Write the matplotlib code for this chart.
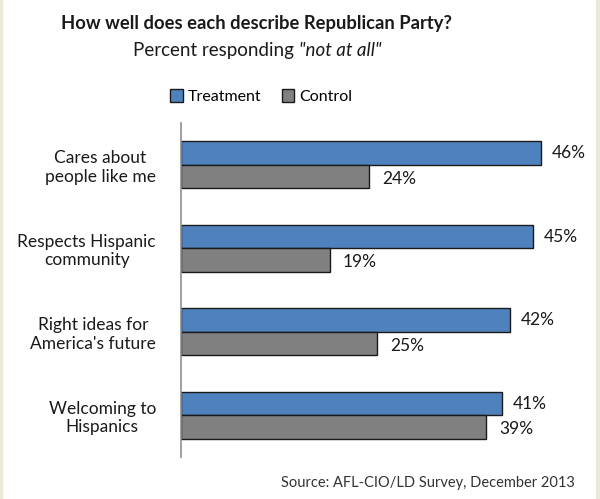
import matplotlib.pyplot as plt
from matplotlib.patches import Rectangle

categories = [
    "Cares about\npeople like me",
    "Respects Hispanic\ncommunity",
    "Right ideas for\nAmerica's future",
    "Welcoming to\nHispanics",
]
treatment = [46, 45, 42, 41]
control = [24, 19, 25, 39]

plt.rcParams["font.family"] = ["Lato", "DejaVu Sans"]

fig = plt.figure(figsize=(6.0, 4.99), dpi=100)
fig.patch.set_facecolor("white")
# thin beige frame strips at the image edges
fig.patches.append(Rectangle((0, 0), 0.004, 1, transform=fig.transFigure, color="#ECE9D8", zorder=0))
fig.patches.append(Rectangle((0.994, 0), 0.006, 1, transform=fig.transFigure, color="#ECE9D8", zorder=0))

ax = fig.add_axes([0.3017, 0.0842, 0.652, 0.6693])
pos = list(range(len(categories)))
h = 0.28
ax.barh([p - h / 2 for p in pos], treatment, height=h, color="#4F81BD",
        edgecolor="#1a1a1a", linewidth=1.0, label="Treatment")
ax.barh([p + h / 2 for p in pos], control, height=h, color="#808080",
        edgecolor="#1a1a1a", linewidth=1.0, label="Control")

for p, t, c in zip(pos, treatment, control):
    ax.annotate(f"{t}%", (t, p - h / 2), xytext=(8, 0), textcoords="offset points",
                va="center", ha="left", fontsize=12.5, color="#1a1a1a")
    ax.annotate(f"{c}%", (c, p + h / 2), xytext=(9.5, -1.5), textcoords="offset points",
                va="center", ha="left", fontsize=12.5, color="#1a1a1a")

ax.set_xlim(0, 50)
ax.set_ylim(3.5, -0.5)
ax.set_yticks(pos)
ax.set_yticklabels(categories, fontsize=12.5, multialignment="center", color="#1a1a1a")
ax.tick_params(axis="y", length=0, pad=18)
ax.set_xticks([])
for s in ["top", "right", "bottom"]:
    ax.spines[s].set_visible(False)
ax.spines["left"].set_color("#909090")
ax.spines["left"].set_linewidth(1.2)

fig.text(0.428, 0.953, "How well does each describe Republican Party?", ha="center", va="center",
         fontsize=13.2, fontweight="bold", color="#1a1a1a")

# subtitle: regular + italic part, centred as one line
renderer = fig.canvas.get_renderer()
sub1 = fig.text(0, 0.899, "Percent responding ", ha="left", va="center", fontsize=13.5, color="#1a1a1a")
sub2 = fig.text(0, 0.899, "\"not at all\"", ha="left", va="center", fontsize=13.5,
                style="italic", color="#1a1a1a")
w1 = sub1.get_window_extent(renderer).width / fig.bbox.width
w2 = sub2.get_window_extent(renderer).width / fig.bbox.width
x0 = 0.429 - (w1 + w2) / 2
sub1.set_x(x0)
sub2.set_x(x0 + w1)

fig.legend(loc="center", bbox_to_anchor=(0.435, 0.806), ncol=2, frameon=False, fontsize=11.5,
           handlelength=0.8, handleheight=0.8, handletextpad=0.3, columnspacing=1.3)

fig.text(0.958, 0.032, "Source: AFL-CIO/LD Survey, December 2013", ha="right", va="center",
         fontsize=10.5, color="#333333")

fig.savefig("out.png", dpi=100)
